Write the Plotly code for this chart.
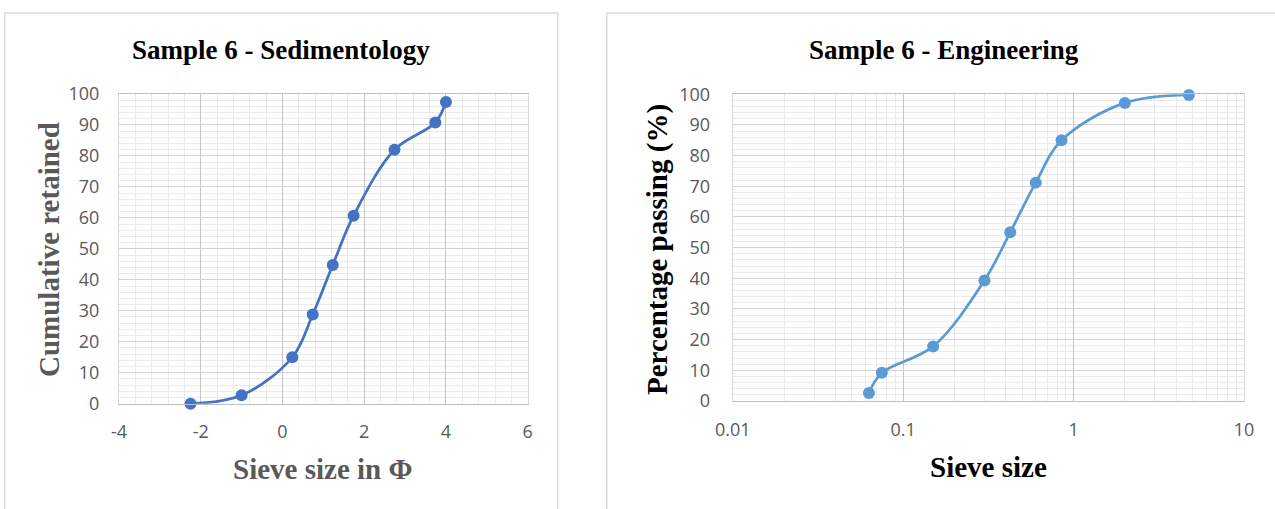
import plotly.graph_objects as go

W, H = 1275, 509

# ---- data ----
phi_sizes = [-2.25, -1.0, 0.24, 0.74, 1.23, 1.74, 2.74, 3.74, 4.0]
cum_retained = [0.0, 2.7, 15.0, 28.8, 44.8, 60.7, 82.0, 90.8, 97.4]

sieve_sizes = [0.063, 0.075, 0.15, 0.3, 0.425, 0.6, 0.85, 2.0, 4.75]
pct_passing = [2.6, 9.2, 17.8, 39.3, 55.0, 71.2, 85.0, 97.2, 99.8]

phi_tick_vals = [-4, -2, 0, 2, 4, 6]
phi_tick_text = ["-4", "-2", "0", "2", "4", "6"]
log_tick_vals = [0.01, 0.1, 1, 10]
log_tick_text = ["0.01", "0.1", "1", "10"]

left_title = "Sample 6 - Sedimentology"
right_title = "Sample 6 - Engineering"
left_xlabel = "Sieve size in Φ"
left_ylabel = "Cumulative retained"
right_xlabel = "Sieve size"
right_ylabel = "Percentage passing (%)"


def px(x):
    return x / W


def py(y):
    return 1 - y / H


TICK_FONT = dict(family="Open Sans", size=18, color="#595959")
X_MAJOR = "#C6C6C6"
Y_MAJOR = "#D4D4D4"
MINOR = "#EAEAEA"
BORDER = "#D9D9D9"

fig = go.Figure()

fig.add_trace(go.Scatter(
    x=phi_sizes, y=cum_retained, mode="lines+markers",
    line=dict(color="#4472C4", width=2.75, shape="spline", smoothing=1.0),
    marker=dict(color="#4472C4", size=12),
    xaxis="x", yaxis="y", showlegend=False, cliponaxis=False,
))
fig.add_trace(go.Scatter(
    x=sieve_sizes, y=pct_passing, mode="lines+markers",
    line=dict(color="#5B9BD5", width=2.75, shape="spline", smoothing=1.0),
    marker=dict(color="#5B9BD5", size=12),
    xaxis="x2", yaxis="y2", showlegend=False, cliponaxis=False,
))

common_axis = dict(
    showline=True, linecolor=BORDER, linewidth=1, mirror=True,
    gridwidth=1, zeroline=False, automargin=False,
    tickfont=TICK_FONT, ticks="outside", tickcolor="rgba(0,0,0,0)",
)

fig.update_layout(
    width=W, height=H,
    margin=dict(l=0, r=0, t=0, b=0, pad=0),
    paper_bgcolor="white", plot_bgcolor="white",
    xaxis=dict(
        domain=[px(119), px(527.7)], range=[-4, 6], anchor="y",
        tickmode="array", tickvals=phi_tick_vals, ticktext=phi_tick_text,
        gridcolor=X_MAJOR,
        minor=dict(dtick=0.4, showgrid=True, gridcolor=MINOR),
        ticklen=12, **common_axis,
    ),
    yaxis=dict(
        domain=[py(403.7), py(94)], range=[0, 100], dtick=10, anchor="x",
        gridcolor=Y_MAJOR,
        minor=dict(dtick=2, showgrid=True, gridcolor=MINOR),
        ticklen=15, **common_axis,
    ),
    xaxis2=dict(
        domain=[px(732.7), px(1244)], type="log", range=[-2, 1], anchor="y2",
        tickmode="array", tickvals=log_tick_vals, ticktext=log_tick_text,
        gridcolor=X_MAJOR,
        minor=dict(dtick="D1", showgrid=True, gridcolor=MINOR),
        ticklen=12, **common_axis,
    ),
    yaxis2=dict(
        domain=[py(401), py(94.3)], range=[0, 100], dtick=10, anchor="x2",
        gridcolor=Y_MAJOR,
        minor=dict(dtick=2, showgrid=True, gridcolor=MINOR),
        ticklen=18, **common_axis,
    ),
)

fig.update_xaxes(linecolor="#BFBFBF")

# panel borders
fig.add_shape(type="rect", xref="paper", yref="paper",
              x0=px(4.7), x1=px(557.7), y0=py(530), y1=py(13),
              line=dict(color=BORDER, width=1.5), fillcolor="rgba(0,0,0,0)", layer="below")
fig.add_shape(type="rect", xref="paper", yref="paper",
              x0=px(606.7), x1=px(1300), y0=py(530), y1=py(13),
              line=dict(color=BORDER, width=1.5), fillcolor="rgba(0,0,0,0)", layer="below")

TITLE_FONT = dict(family="Liberation Serif", size=27, color="black")
AX_FONT_GRAY = dict(family="Liberation Serif", size=29, color="#595959")
AX_FONT_BLACK = dict(family="Liberation Serif", size=29, color="black")

annots = [
    dict(text="<b>%s</b>" % left_title, x=px(281), y=py(50), font=TITLE_FONT),
    dict(text="<b>%s</b>" % right_title, x=px(944), y=py(50), font=TITLE_FONT),
    dict(text="<b>%s</b>" % left_xlabel, x=px(323), y=py(469), font=AX_FONT_GRAY),
    dict(text="<b>%s</b>" % left_ylabel, x=px(49), y=py(250), font=AX_FONT_GRAY, textangle=-90),
    dict(text="<b>%s</b>" % right_xlabel, x=px(988), y=py(467), font=AX_FONT_BLACK),
    dict(text="<b>%s</b>" % right_ylabel, x=px(657), y=py(250), font=AX_FONT_BLACK, textangle=-90),
]
for a in annots:
    fig.add_annotation(xref="paper", yref="paper", showarrow=False,
                       xanchor="center", yanchor="middle", **a)

fig.write_html("out.html")
